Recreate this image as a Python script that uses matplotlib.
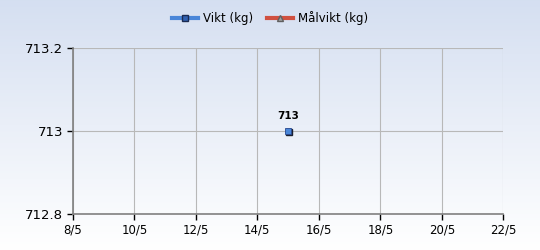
import numpy as np
import matplotlib.pyplot as plt
from matplotlib.lines import Line2D

# data
days = [15]          # day in May
weights = [713]
point_labels = ['713']
x_ticks = [8, 10, 12, 14, 16, 18, 20, 22]
x_tick_labels = [f'{d}/5' for d in x_ticks]
y_ticks = [712.8, 713, 713.2]
y_tick_labels = ['712.8', '713', '713.2']

fig = plt.figure(figsize=(5.4, 2.5), dpi=100)

# background gradient (light blue at top to white at bottom)
bg = fig.add_axes([0, 0, 1, 1], zorder=-10)
grad = np.linspace(0, 1, 256).reshape(-1, 1)
top = np.array([0.835, 0.875, 0.945])
bottom = np.array([1.0, 1.0, 1.0])
img = top + (bottom - top) * grad[:, :, None]
bg.imshow(img, aspect='auto', extent=[0, 1, 0, 1])
bg.axis('off')

ax = fig.add_axes([0.135, 0.144, 0.797, 0.664])
ax.patch.set_alpha(0)

# shadow behind the marker, then the marker itself
ax.plot(days, weights, linestyle='none', marker='s', markersize=5,
        color='#1a2030', transform=ax.transData + plt.matplotlib.transforms.ScaledTranslation(
            1.2 / 100, -1.2 / 100, fig.dpi_scale_trans), zorder=4)
ax.plot(days, weights, linestyle='-', color='#4a7fd0', marker='s', markersize=5,
        markerfacecolor='#4a86d8', markeredgecolor='#2a4a90', markeredgewidth=0.6, zorder=5)
for d, w, t in zip(days, weights, point_labels):
    ax.annotate(t, (d, w), xytext=(0, 7), textcoords='offset points',
                ha='center', va='bottom', fontsize=7.5, fontweight='bold')

ax.set_xlim(8, 22)
ax.set_ylim(712.8, 713.2)
ax.set_xticks(x_ticks)
ax.set_xticklabels(x_tick_labels, fontsize=8.5)
ax.set_yticks(y_ticks)
ax.set_yticklabels(y_tick_labels, fontsize=9.5)
ax.grid(True, color='#b8b8b8', linewidth=0.8)
ax.set_axisbelow(True)
for s in ['top', 'right']:
    ax.spines[s].set_visible(False)
for s in ['left', 'bottom']:
    ax.spines[s].set_color('#808080')
    ax.spines[s].set_linewidth(1.2)
ax.tick_params(length=4, width=1, color='black', pad=3)

handles = [
    Line2D([0], [0], color='#4a86d8', lw=3, marker='s', markersize=4,
           markerfacecolor='#3060b0', markeredgecolor='#1a2a50'),
    Line2D([0], [0], color='#d05040', lw=3, marker='^', markersize=4,
           markerfacecolor='#a0a0a0', markeredgecolor='#606060'),
]
fig.legend(handles, ['Vikt (kg)', 'Målvikt (kg)'], loc='center', bbox_to_anchor=(0.5, 0.928),
           ncol=2, frameon=False, fontsize=8.5, handlelength=2.2, handletextpad=0.4,
           columnspacing=1.2)

fig.savefig('out.png', dpi=100)
